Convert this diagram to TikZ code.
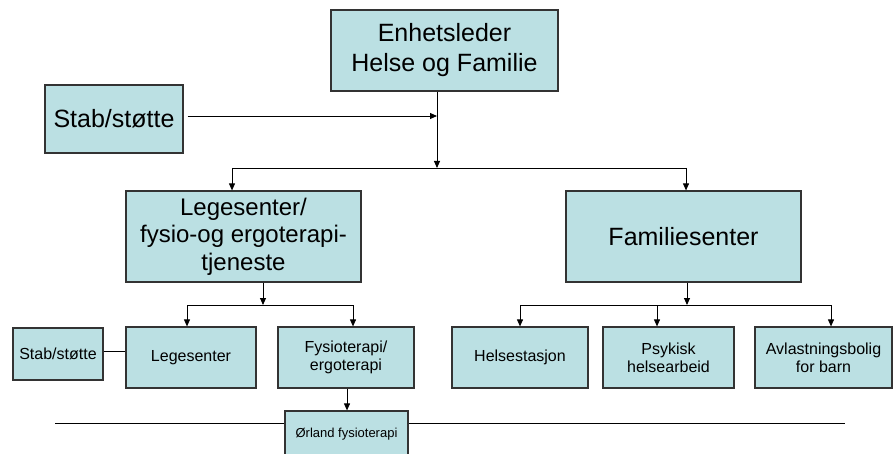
\documentclass[tikz,border=0pt]{standalone}
\usepackage{fontspec}
\setmainfont{Liberation Sans}
\usetikzlibrary{arrows.meta}
\definecolor{boxfill}{HTML}{BBE0E3}
\definecolor{boxline}{HTML}{333333}
\tikzset{
  box/.style={draw=boxline, line width=1.2pt, fill=boxfill, rectangle, inner sep=0pt, align=center, text=black},
  big/.style={font=\fontsize{25}{30}\selectfont},
  mid/.style={font=\fontsize{24}{27.5}\selectfont},
  small/.style={font=\fontsize{16}{18}\selectfont},
  tiny/.style={font=\fontsize{13}{15}\selectfont},
  conn/.style={draw=black, line width=0.9pt},
  arr/.style={conn, -{Triangle[length=7pt,width=6pt]}},
}
\begin{document}
\begin{tikzpicture}[x=1pt,y=-1pt]
\useasboundingbox (0,0) rectangle (893,454);
% long horizontal line behind the Ørland box
\coordinate (hl) at (55,423);
\coordinate (hr) at (845,423);
\draw[conn] (hl) -- (hr);

\node[box,big,minimum width=227pt,minimum height=81pt] (top) at (444.5,50.5) {Enhetsleder\\Helse og Familie};
\node[box,big,minimum width=138pt,minimum height=68pt] (stab1) at (114,119) {Stab/støtte};
\node[box,mid,minimum width=235pt,minimum height=91pt] (lege) at (243.5,236.5) {Legesenter/\\fysio-og ergoterapi-\\tjeneste};
\node[box,big,minimum width=235pt,minimum height=91pt] (fam) at (683.5,236.5) {Familiesenter};

\node[box,small,minimum width=90pt,minimum height=52pt] (stab2) at (58,354) {Stab/støtte};
\node[box,small,minimum width=130pt,minimum height=61pt] (legs) at (191,357.5) {Legesenter};
\node[box,small,minimum width=136pt,minimum height=61pt] (fysio) at (346,357.5) {Fysioterapi/\\ergoterapi};
\node[box,small,minimum width=136pt,minimum height=61pt] (helse) at (520,357.5) {Helsestasjon};
\node[box,small,minimum width=131pt,minimum height=61pt] (psyk) at (668.5,357.5) {Psykisk\\helsearbeid};
\node[box,small,minimum width=137pt,minimum height=61pt] (avl) at (823.5,357.5) {Avlastningsbolig\\for barn};
\node[box,tiny,minimum width=123pt,minimum height=46pt] (orl) at (346.5,434) {Ørland fysioterapi};

% level 1
\coordinate (j1) at (437,168);
\coordinate (js) at (437,116);
\coordinate (jl) at (232,168);
\coordinate (jr) at (686,168);
\draw[arr] (top.south -| j1) -- (j1);
\draw[arr] ([xshift=4pt]stab1.east |- js) -- (js);
\draw[conn] (jl) -- (jr);
\draw[arr] (jl) -- (lege.north -| jl);
\draw[arr] (jr) -- (fam.north -| jr);

% level 2 left
\coordinate (k1) at (263,305);
\coordinate (kl) at (187,305);
\coordinate (kr) at (353,305);
\draw[arr] (lege.south -| k1) -- (k1);
\draw[conn] (kl) -- (kr);
\draw[arr] (kl) -- (legs.north -| kl);
\draw[arr] (kr) -- (fysio.north -| kr);
\draw[conn] (stab2.east |- 0,351) -- (legs.west |- 0,351);
\coordinate (f1) at (347,0);
\draw[arr] (fysio.south -| f1) -- (orl.north -| f1);

% level 2 right
\coordinate (m1) at (687,305);
\coordinate (ma) at (520,305);
\coordinate (mb) at (657,305);
\coordinate (mc) at (831,305);
\draw[arr] (fam.south -| m1) -- (m1);
\draw[conn] (ma) -- (mc);
\draw[arr] (ma) -- (helse.north -| ma);
\draw[arr] (mb) -- (psyk.north -| mb);
\draw[arr] (mc) -- (avl.north -| mc);
\end{tikzpicture}
\end{document}
